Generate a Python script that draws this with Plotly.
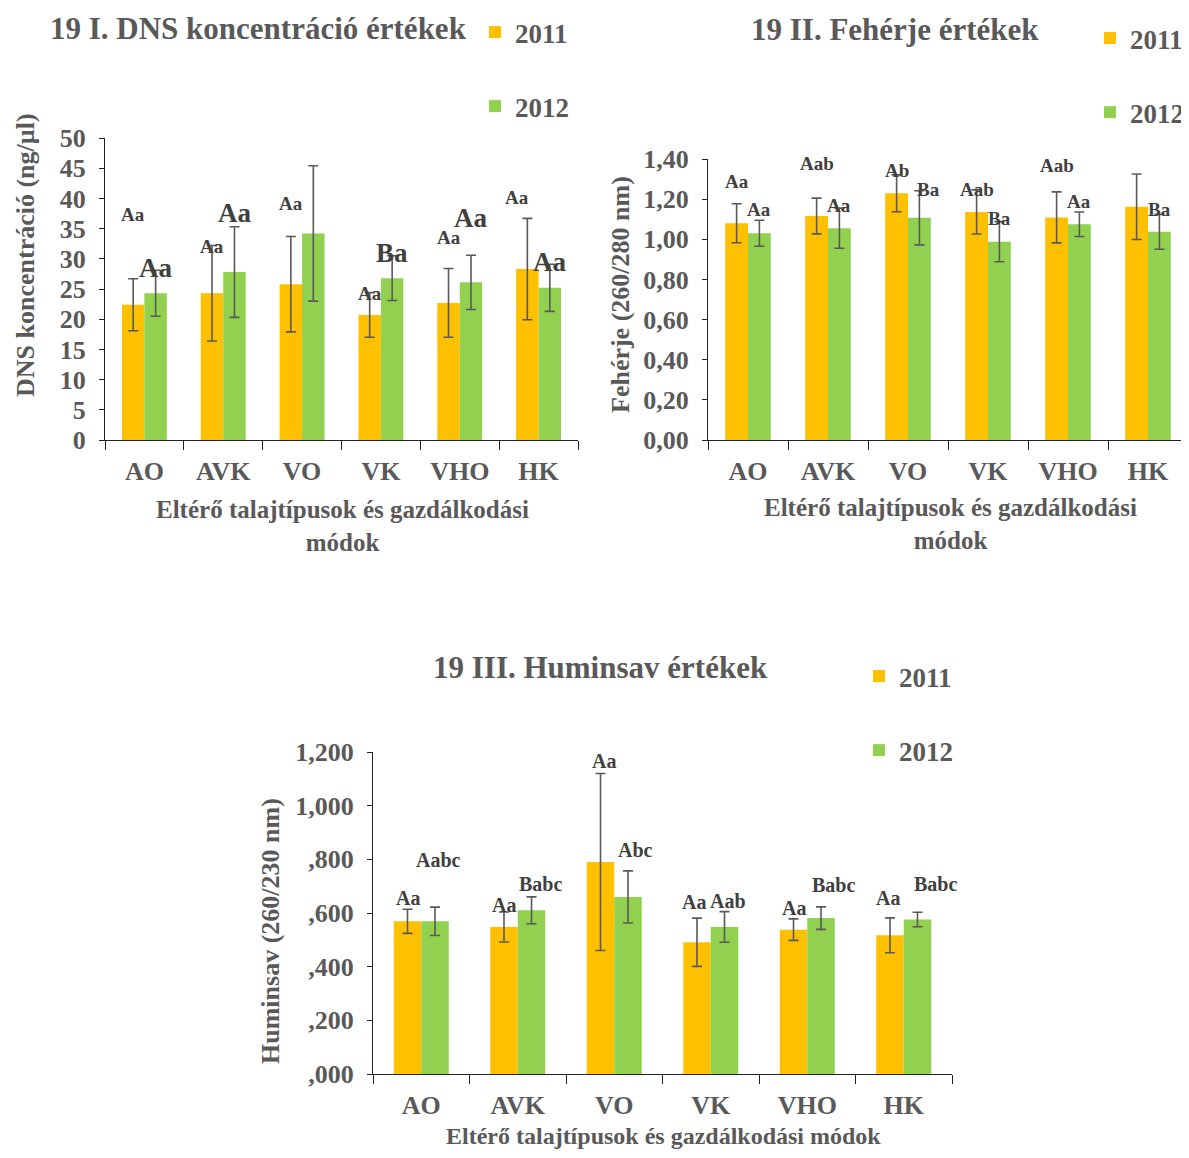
import plotly.graph_objects as go

# page offset (body margin) and figure size
OFF = 8
W, H = 1181, 1142
categories = ["AO", "AVK", "VO", "VK", "VHO", "HK"]
years = ["2011", "2012"]

# Panel I - DNS koncentráció (ng/µl)
dns_2011 = [22.4, 24.3, 25.8, 20.7, 22.7, 28.3]
dns_2012 = [24.3, 27.8, 34.2, 26.8, 26.1, 25.2]
dns_err_2011 = [4.3, 7.9, 7.9, 3.7, 5.7, 8.4]
dns_err_2012 = [3.8, 7.5, 11.2, 3.7, 4.5, 3.9]
dns_lab_2011 = ["Aa", "Aa", "Aa", "Aa", "Aa", "Aa"]
dns_lab_2012 = ["Aa", "Aa", "Ba", "Ba", "Aa", "Aa"]

# Panel II - Fehérje (260/280 nm)
feh_2011 = [1.08, 1.116, 1.229, 1.136, 1.109, 1.162]
feh_2012 = [1.030, 1.055, 1.107, 0.988, 1.075, 1.037]
feh_err_2011 = [0.097, 0.089, 0.092, 0.11, 0.127, 0.163]
feh_err_2012 = [0.065, 0.10, 0.135, 0.10, 0.061, 0.087]
feh_lab_2011 = ["Aa", "Aab", "Ab", "Aab", "Aab", "Aab"]
feh_lab_2012 = ["Aa", "Aa", "Ba", "Ba", "Aa", "Ba"]

# Panel III - Huminsav (260/230 nm)
hum_2011 = [0.569, 0.548, 0.790, 0.491, 0.538, 0.517]
hum_2012 = [0.569, 0.610, 0.660, 0.548, 0.581, 0.576]
hum_err_2011 = [0.045, 0.056, 0.33, 0.09, 0.04, 0.065]
hum_err_2012 = [0.053, 0.05, 0.097, 0.057, 0.042, 0.027]
hum_lab_2011 = ["Aa", "Aa", "Aa", "Aa", "Aa", "Aa"]
hum_lab_2012 = ["Aabc", "Babc", "Abc", "Aab", "Babc", "Babc"]

dns_ticks = [0, 5, 10, 15, 20, 25, 30, 35, 40, 45, 50]
feh_ticks = [0, 0.2, 0.4, 0.6, 0.8, 1.0, 1.2, 1.4]
feh_ticktext = ["0,00", "0,20", "0,40", "0,60", "0,80", "1,00", "1,20", "1,40"]
hum_ticks = [0, 0.2, 0.4, 0.6, 0.8, 1.0, 1.2]
hum_ticktext = [",000", ",200", ",400", ",600", ",800", "1,000", "1,200"]

# label placement (positions, not data)
dns_lab_y_2011 = [37.3, 32.1, 39.1, 24.3, 33.6, 40.1]
dns_lab_y_2012 = [28.5, 37.6, 50.5, 31.0, 36.8, 29.5]
dns_lab_dx_2011 = [-0.14, -0.14, -0.14, -0.14, -0.14, -0.27]
dns_lab_dx_2012 = [0.14, 0.14, 0.2, 0.14, 0.14, 0.14]
feh_lab_y_2011 = [1.29, 1.38, 1.345, 1.25, 1.37, 1.41]
feh_lab_y_2012 = [1.15, 1.17, 1.25, 1.106, 1.19, 1.15]
feh_lab_dx_2011 = [-0.14] * 6
feh_lab_dx_2012 = [0.14, 0.14, 0.25, 0.14, 0.14, 0.14]
hum_lab_y_2011 = [0.656, 0.630, 1.167, 0.641, 0.619, 0.656]
hum_lab_y_2012 = [0.798, 0.708, 0.835, 0.645, 0.704, 0.708]
hum_lab_dx_2011 = [-0.137, -0.14, -0.106, -0.17, -0.137, -0.163]
hum_lab_dx_2012 = [0.18, 0.24, 0.225, 0.18, 0.277, 0.334]

C11, C12 = "#FFC000", "#92D050"
GRAY = "#595959"
LABC = "#404040"
FONT = "Liberation Serif"


def px_x(p):
    return (p - OFF) / W


def px_y(p):
    return 1 - (p - OFF) / H


fig = go.Figure()

panels = [
    ("x", "y", "legend", dns_2011, dns_2012, dns_err_2011, dns_err_2012),
    ("x2", "y2", "legend2", feh_2011, feh_2012, feh_err_2011, feh_err_2012),
    ("x3", "y3", "legend3", hum_2011, hum_2012, hum_err_2011, hum_err_2012),
]
for k, (xa, ya, lg, v11, v12, e11, e12) in enumerate(panels):
    for yr, vals, errs, col in [("2011", v11, e11, C11), ("2012", v12, e12, C12)]:
        fig.add_trace(go.Bar(
            x=categories, y=vals, name=yr, xaxis=xa, yaxis=ya, legend=lg,
            legendgroup=f"p{k}_{yr}",
            marker=dict(color=col, line=dict(width=0)),
            error_y=dict(type="data", array=errs, visible=True, color=GRAY,
                         thickness=1.6, width=5),
            hoverinfo="x+y",
        ))

axis_common = dict(showgrid=False, zeroline=False, showline=True, linecolor="#222",
                   linewidth=1.3, ticks="outside", tickcolor="#222", tickwidth=1.3,
                   ticklabelstandoff=8,
                   tickfont=dict(family=FONT, size=26, color=GRAY, weight="bold"))
xcommon = dict(axis_common, type="category", tickson="boundaries", ticklen=9,
               range=[-0.5, 5.5], ticklabelstandoff=8,
               tickfont=dict(family=FONT, size=26, color=GRAY, weight="bold"))

fig.update_layout(
    width=W, height=H, autosize=False,
    margin=dict(l=0, r=0, t=0, b=0, pad=0, autoexpand=False),
    paper_bgcolor="white", plot_bgcolor="white",
    barmode="group", bargap=0.43, bargroupgap=0,
    showlegend=True,
    font=dict(family=FONT, color=GRAY),
    xaxis=dict(xcommon, domain=[px_x(105), px_x(578)], anchor="y"),
    yaxis=dict(axis_common, domain=[px_y(440), px_y(138)], range=[0, 50],
               tickvals=dns_ticks, ticklen=5, anchor="x"),
    xaxis2=dict(xcommon, domain=[px_x(708), px_x(1188)], anchor="y2"),
    yaxis2=dict(axis_common, domain=[px_y(440), px_y(159)], range=[0, 1.4],
                tickvals=feh_ticks, ticktext=feh_ticktext, ticklen=5, anchor="x2"),
    xaxis3=dict(xcommon, domain=[px_x(373), px_x(952)], anchor="y3"),
    yaxis3=dict(axis_common, domain=[px_y(1074), px_y(752)], range=[0, 1.2],
                tickvals=hum_ticks, ticktext=hum_ticktext, ticklen=5, anchor="x3"),
)

leg_common = dict(orientation="v", xanchor="left", yanchor="top", tracegroupgap=36,
                  bgcolor="rgba(0,0,0,0)", itemclick=False, itemdoubleclick=False,
                  font=dict(family=FONT, size=27, color=GRAY, weight="bold"),
                  traceorder="grouped")
fig.update_layout(
    legend=dict(leg_common, x=px_x(475), y=px_y(8)),
    legend2=dict(leg_common, x=px_x(1090), y=px_y(14)),
    legend3=dict(leg_common, x=px_x(859), y=px_y(652)),
)

ann = []
# titles
for text, cx, cy in [("19 I. DNS koncentráció értékek", 258, 28),
                     ("19 II. Fehérje értékek", 895, 30),
                     ("19 III. Huminsav értékek", 600, 667)]:
    ann.append(dict(text=f"<b>{text}</b>", x=px_x(cx), y=px_y(cy), xref="paper", yref="paper",
                    xanchor="center", yanchor="middle", showarrow=False,
                    font=dict(family=FONT, size=31, color=GRAY)))
# axis titles
for text, cx, cy in [("DNS koncentráció (ng/µl)", 25, 255),
                     ("Fehérje (260/280 nm)", 620, 295),
                     ("Huminsav (260/230 nm)", 270, 931)]:
    ann.append(dict(text=f"<b>{text}</b>", x=px_x(cx), y=px_y(cy), xref="paper", yref="paper",
                    xanchor="center", yanchor="middle", showarrow=False, textangle=-90,
                    font=dict(family=FONT, size=26, color=GRAY)))
for text, cx, cy, fs in [("Eltérő talajtípusok és gazdálkodási<br>módok", 342, 526, 25),
                         ("Eltérő talajtípusok és gazdálkodási<br>módok", 950, 524, 25),
                         ("Eltérő talajtípusok és gazdálkodási módok", 663, 1136, 24)]:
    ann.append(dict(text=f"<b>{text}</b>", x=px_x(cx), y=px_y(cy), xref="paper", yref="paper",
                    xanchor="center", yanchor="middle", showarrow=False,
                    font=dict(family=FONT, size=fs, color=GRAY)))

# significance letters
groups = [
    ("x", "y", dns_lab_2011, dns_lab_y_2011, dns_lab_dx_2011, 19),
    ("x", "y", dns_lab_2012, dns_lab_y_2012, dns_lab_dx_2012, 27),
    ("x2", "y2", feh_lab_2011, feh_lab_y_2011, feh_lab_dx_2011, 19),
    ("x2", "y2", feh_lab_2012, feh_lab_y_2012, feh_lab_dx_2012, 19),
    ("x3", "y3", hum_lab_2011, hum_lab_y_2011, hum_lab_dx_2011, 20),
    ("x3", "y3", hum_lab_2012, hum_lab_y_2012, hum_lab_dx_2012, 20),
]
for xa, ya, labs, ys, dxs, fs in groups:
    for i, (lab, yy, dx) in enumerate(zip(labs, ys, dxs)):
        ann.append(dict(text=f"<b>{lab}</b>", x=i + dx, y=yy, xref=xa, yref=ya,
                        xanchor="center", yanchor="middle", showarrow=False,
                        font=dict(family=FONT, size=fs, color=LABC)))
fig.update_layout(annotations=ann)

fig.write_html("out.html")
